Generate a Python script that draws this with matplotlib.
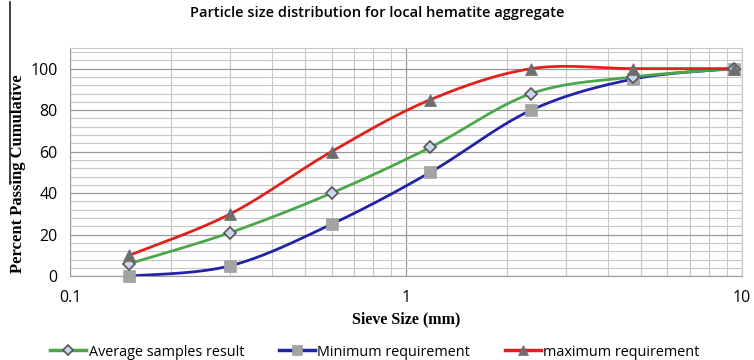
import numpy as np
import matplotlib
matplotlib.use("Agg")
import matplotlib.pyplot as plt
from matplotlib.lines import Line2D
from matplotlib.ticker import FixedLocator, NullFormatter

sieve_sizes = [0.15, 0.3, 0.6, 1.18, 2.36, 4.75, 9.5]
average_result = [6, 21, 40, 62, 88, 96, 100]
minimum_req = [0, 5, 25, 50, 80, 95, 100]
maximum_req = [10, 30, 60, 85, 100, 100, 100]

series_names = ["Average samples result", "Minimum requirement", "maximum requirement"]
line_colors = ["#4ca64a", "#2323a8", "#e0211d"]
markers = ["D", "s", "^"]
marker_faces = ["#c9d6f0", "#a3a3a3", "#6e6e6e"]
marker_edges = ["#555555", "#a3a3a3", "#6e6e6e"]
marker_sizes = [6.5, 8, 8]


def excel_smooth(xs, ys, n=40):
    lx = np.log10(np.asarray(xs, float))
    y = np.asarray(ys, float)
    P = np.column_stack([lx, y])
    out = []
    for i in range(len(P) - 1):
        p0 = P[i - 1] if i > 0 else P[i]
        p1 = P[i]
        p2 = P[i + 1]
        p3 = P[i + 2] if i + 2 < len(P) else P[i + 1]
        c1 = p1 + (p2 - p0) / 6.0
        c2 = p2 - (p3 - p1) / 6.0
        t = np.linspace(0, 1, n)[:, None]
        seg = ((1 - t) ** 3) * p1 + 3 * ((1 - t) ** 2) * t * c1 + 3 * (1 - t) * t ** 2 * c2 + t ** 3 * p2
        out.append(seg if i == 0 else seg[1:])
    arr = np.vstack(out)
    return 10 ** arr[:, 0], arr[:, 1]


fig = plt.figure(figsize=(7.54, 3.6), dpi=100)
ax = fig.add_axes([0.093, 0.233, 0.891, 0.634])

ax.set_xscale("log")
ax.set_xlim(0.1, 10)
ax.set_ylim(0, 110)

# grid
minor_x = [m * 10.0 ** e for e in (-1, 0) for m in range(2, 10)]
ax.xaxis.set_minor_locator(FixedLocator(minor_x))
ax.xaxis.set_minor_formatter(NullFormatter())
ax.set_xticks([0.1, 1, 10])
ax.set_xticklabels(["0.1", "1", "10"])
ax.set_yticks([0, 20, 40, 60, 80, 100])
ax.yaxis.set_minor_locator(FixedLocator(list(range(4, 110, 4))))
ax.grid(True, which="major", color="#9a9a9a", linewidth=0.9)
ax.grid(True, which="minor", color="#c8c8c8", linewidth=0.8)
ax.set_axisbelow(True)
ax.tick_params(which="both", length=0, labelsize=11.5)
ax.tick_params(axis="x", pad=10)
ax.tick_params(axis="y", pad=9)
for lab in ax.get_xticklabels() + ax.get_yticklabels():
    lab.set_family("Open Sans")
for s in ["top", "right"]:
    ax.spines[s].set_color("#c8c8c8")
ax.spines["left"].set_color("#9a9a9a")
ax.spines["bottom"].set_color("#9a9a9a")

series = [average_result, minimum_req, maximum_req]
order = [1, 0, 2]
for idx in order:
    ys = series[idx]
    sx, sy = excel_smooth(sieve_sizes, ys)
    ax.plot(sx, sy, color=line_colors[idx], linewidth=2.0, zorder=3, solid_capstyle="round")
for idx in order:
    ys = series[idx]
    ax.plot(sieve_sizes, ys, linestyle="none", marker=markers[idx], markersize=marker_sizes[idx],
            markerfacecolor=marker_faces[idx], markeredgecolor=marker_edges[idx],
            markeredgewidth=1.2 if idx == 0 else 0.5, zorder=4, clip_on=False)

ax.set_title("Particle size distribution for local hematite aggregate", fontsize=10.5,
             family="Open Sans", fontweight="semibold", pad=22, x=0.457)
ax.set_ylabel("Percent Passing Cumulative", family="Liberation Serif", fontweight="bold",
              fontsize=12)
ax.yaxis.set_label_coords(-0.066, 0.45)
ax.set_xlabel("Sieve Size (mm)", family="Liberation Serif", fontweight="bold", fontsize=11.5,
              labelpad=4)

handles = []
for idx in range(3):
    handles.append(Line2D([0], [0], color=line_colors[idx], linewidth=2.5, marker=markers[idx],
                          markersize=marker_sizes[idx] - 1, markerfacecolor=marker_faces[idx],
                          markeredgecolor=marker_edges[idx],
                          markeredgewidth=1.2 if idx == 0 else 0.5))
fig.legend(handles, series_names, loc="center", bbox_to_anchor=(0.497, 1 - 352 / 360), ncol=3,
           frameon=False, prop={"family": "Open Sans", "size": 10.4}, handlelength=2.5,
           columnspacing=2.4, handletextpad=0.15, borderpad=0)

fig.add_artist(Line2D([0.013, 0.013], [0.49, 0.995], transform=fig.transFigure,
                      color="#222222", linewidth=1.2))

fig.savefig("out.png", dpi=100)
